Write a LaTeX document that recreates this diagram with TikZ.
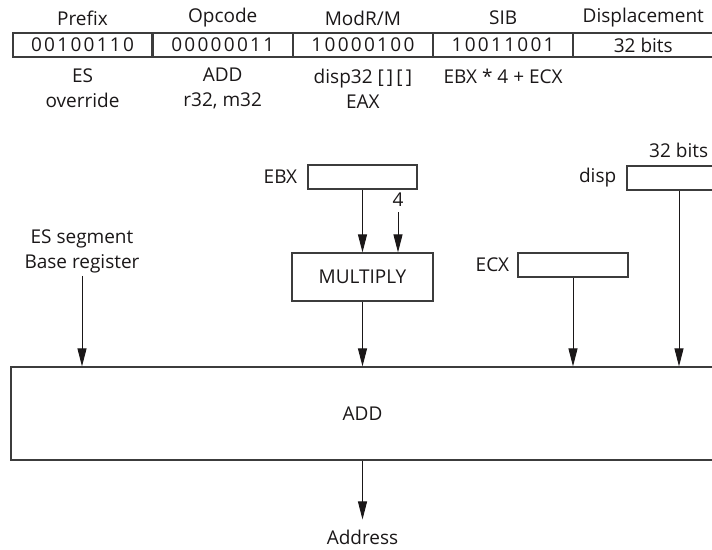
\documentclass[tikz,border=0pt]{standalone}
\usepackage{fontspec}
\setmainfont{Open Sans}
\usepackage{tikz}
\usepackage{xcolor}
\usetikzlibrary{arrows.meta, positioning, calc}

\definecolor{ink}{HTML}{1A1718}
\definecolor{rule}{HTML}{3C3C3C}
\tikzset{
  cell/.style={draw=rule, line width=1.2pt, minimum width=139pt, minimum height=24pt, inner sep=0pt, text=ink},
  regbox/.style={draw=rule, line width=1.2pt, minimum height=24pt, inner sep=0pt, text=ink},
  lbl/.style={text=ink, inner sep=0pt, align=center},
  flow/.style={-{Triangle[length=18pt, width=9pt]}, draw=ink, line width=1pt},
}
\newcommand{\bitstr}[1]{{\addfontfeature{LetterSpace=12}#1}}

\begin{document}
\begin{tikzpicture}[x=1pt, y=-1pt, font=\fontsize{19}{25}\selectfont]
    \useasboundingbox (0,0) rectangle (712,549);
    \clip (0,0) rectangle (712,549);
    % instruction bytes
    \node[cell] (pre) at (82.5,45) {\bitstr{00100110}};
    \node[cell, right=0pt of pre] (opc) {\bitstr{00000011}};
    \node[cell, right=0pt of opc] (mrm) {\bitstr{10000100}};
    \node[cell, right=0pt of mrm] (sib) {\bitstr{10011001}};
    \node[cell, right=0pt of sib] (dsp) {32 bits};
    \node[lbl] (preh) at (pre |- 0,18) {Prefix};
    \node[lbl] (opch) at (opc |- 0,18) {Opcode};
    \node[lbl] (mrmh) at (mrm |- 0,18) {ModR/M};
    \node[lbl] (sibh) at (sib |- 0,18) {SIB};
    \node[lbl] (dsph) at (dsp |- 0,18) {Displacement};
    \node[lbl] (pred) at (pre |- 0,88.5) {ES\\override};
    \node[lbl] (opcd) at (opc |- 0,88.5) {ADD\\r32, m32};
    \node[lbl] (mrmd) at (mrm |- 0,88.5) {disp32 [\,]\,[\,]\\EAX};
    \node[lbl] (sibd) at (sib |- 0,76) {EBX * 4 + ECX};
    % address calculation
    \node[regbox, minimum width=109pt] (ebx) at (362.5,177) {};
    \node[lbl, left=10pt of ebx] (ebxl) {EBX};
    \node[lbl] (four) at (398,200) {4};
    \node[regbox, minimum width=141pt, minimum height=48pt] (mul) at (362.5,277) {MULTIPLY};
    \node[regbox, minimum width=110pt] (ecx) at (573,265) {};
    \node[lbl, left=8pt of ecx] (ecxl) {ECX};
    \node[regbox, minimum width=104pt] (disp) at (679,178) {};
    \node[lbl, left=10pt of disp] (displ) {disp};
    \node[lbl, anchor=west] (dispw) at (649,150) {32 bits};
    \node[lbl] (esb) at (82,251) {ES segment\\Base register};
    \node[regbox, minimum width=703pt, minimum height=93pt] (add) at (362.5,413.5) {ADD};
    \node[lbl] (addr) at (362.5,537) {Address};
    \draw[flow] (ebx) -- (mul);
    \draw[flow, shorten <=5pt] (four) -- (four |- mul.north);
    \draw[flow] (mul) -- (mul |- add.north);
    \draw[flow] (ecx) -- (ecx |- add.north);
    \draw[flow] (disp) -- (disp |- add.north);
    \draw[flow, shorten <=3pt] (esb) -- (esb |- add.north);
    \draw[flow, shorten >=10pt] (add) -- (addr);
\end{tikzpicture}
\end{document}
